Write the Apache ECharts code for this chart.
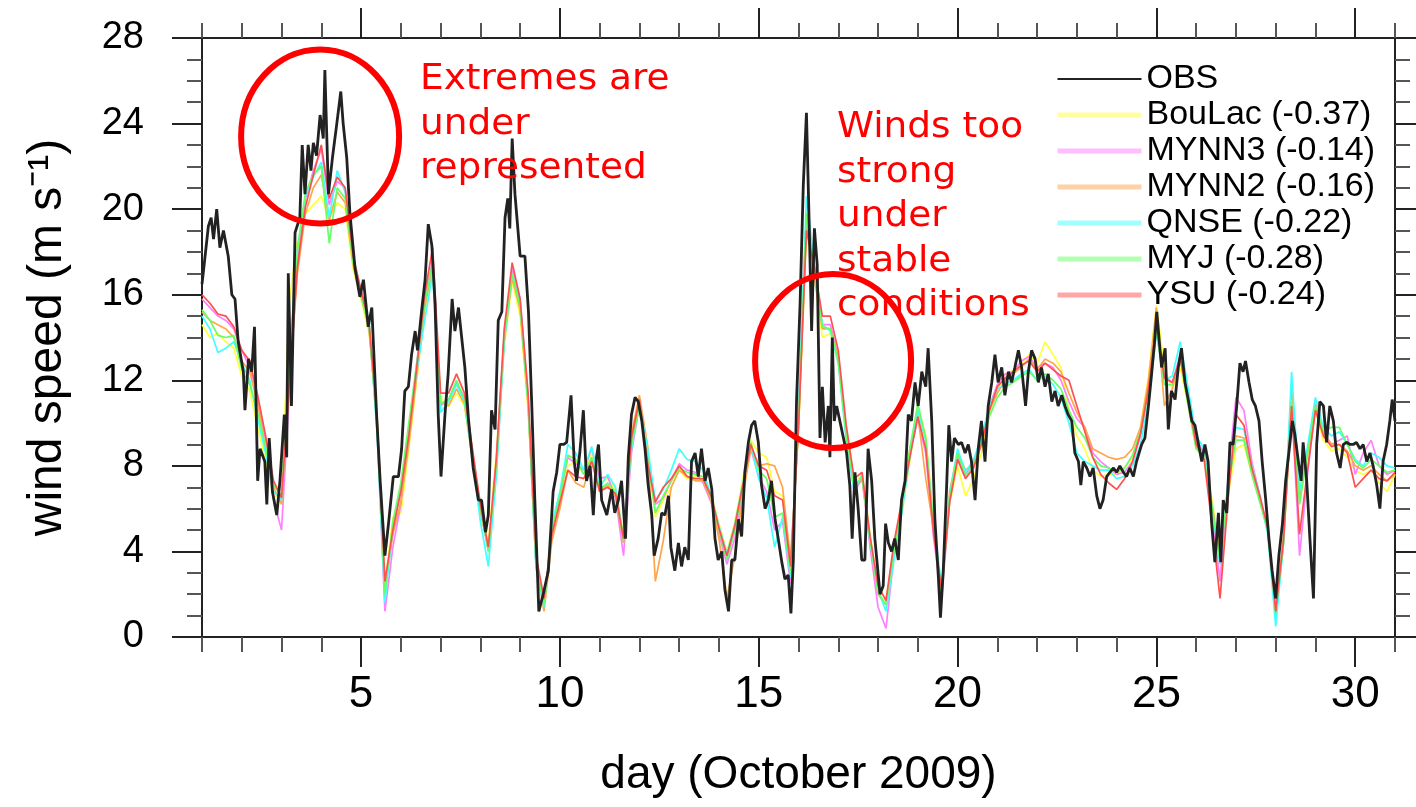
<!DOCTYPE html>
<html>
<head>
<meta charset="utf-8">
<title>Wind speed, October 2009</title>
<script src="https://cdn.jsdelivr.net/npm/echarts@6/dist/echarts.min.js"></script>
<style>
  html, body { margin: 0; padding: 0; background: #fff; }
  #chart { width: 1416px; height: 807px; }
</style>
</head>
<body>
<div id="chart"></div>
<script>
const obsDay = [
  1.00,1.06,1.16,1.23,1.29,1.37,1.45,1.54,1.66,1.75,1.83,1.91,
  2.04,2.08,2.17,2.25,2.32,2.40,2.46,2.58,2.63,2.69,2.77,2.88,2.96,
  3.07,3.13,3.17,3.25,3.34,3.46,3.52,3.59,3.67,3.74,3.80,3.88,3.97,
  4.05,4.09,4.18,4.28,4.39,4.49,4.55,4.64,4.72,4.85,4.97,
  5.06,5.18,5.27,5.39,5.48,5.60,5.69,5.81,5.94,
  6.02,6.10,6.19,6.27,6.36,6.42,6.52,6.61,6.69,6.78,6.86,6.94,
  7.01,7.11,7.19,7.29,7.36,7.45,7.53,7.61,7.70,7.82,7.95,
  8.03,8.13,8.20,8.28,8.37,8.45,8.54,8.62,8.69,8.74,8.80,8.87,
  9.00,9.12,9.21,9.29,9.37,9.47,9.58,9.71,9.83,9.92,
  10.00,10.09,10.17,10.28,10.36,10.42,10.50,10.59,10.67,10.76,10.84,10.92,10.97,
  11.05,11.18,11.30,11.38,11.47,11.55,11.65,11.72,11.80,11.89,11.97,
  12.06,12.14,12.22,12.31,12.37,12.47,12.56,12.64,12.73,12.79,12.89,12.98,
  13.06,13.14,13.23,13.31,13.40,13.48,13.56,13.65,13.73,13.82,13.90,13.98,
  14.07,14.15,14.24,14.32,14.40,14.49,14.57,14.65,14.74,14.82,14.90,14.99,
  15.07,15.16,15.24,15.32,15.41,15.49,15.58,15.66,15.74,15.81,15.87,15.95,
  16.04,16.12,16.20,16.27,16.33,16.40,16.47,16.54,16.60,16.67,16.75,16.79,16.85,16.90,16.96,
  17.04,17.13,17.21,17.29,17.35,17.42,17.50,17.59,17.67,17.75,17.84,17.92,
  18.05,18.13,18.19,18.26,18.34,18.42,18.51,18.59,18.68,18.76,18.84,18.93,
  19.01,19.10,19.20,19.26,19.35,19.43,19.52,19.57,19.64,19.73,19.78,19.85,19.92,
  20.02,20.10,20.19,20.27,20.35,20.44,20.52,20.60,20.69,20.77,20.86,20.94,
  21.02,21.11,21.19,21.28,21.36,21.44,21.53,21.61,21.71,21.78,21.86,21.95,
  22.03,22.11,22.20,22.28,22.37,22.45,22.53,22.62,22.70,22.78,22.87,22.95,
  23.04,23.10,23.16,23.25,23.33,23.41,23.50,23.58,23.66,23.75,23.83,23.92,
  24.00,24.08,24.17,24.25,24.33,24.42,24.50,24.63,24.71,24.80,24.88,24.95,
  25.01,25.06,25.13,25.22,25.30,25.38,25.47,25.55,25.63,25.72,25.80,25.89,25.97,
  26.05,26.14,26.22,26.30,26.39,26.47,26.56,26.62,26.68,26.77,26.85,26.93,
  27.02,27.10,27.18,27.24,27.33,27.41,27.49,27.58,27.66,27.75,27.83,27.91,
  28.00,28.08,28.17,28.25,28.33,28.42,28.48,28.57,28.64,28.69,28.78,28.86,28.95,
  29.03,29.11,29.20,29.28,29.36,29.45,29.53,29.62,29.70,29.78,29.87,29.95,
  30.03,30.12,30.20,30.29,30.37,30.45,30.54,30.62,30.70,30.79,30.87,30.93,31.00
]
const obsSpeed = [
  16.5,17.5,19.2,19.6,18.6,20.0,18.2,19.0,17.8,16.0,15.8,13.8,
  12.4,10.6,13.0,12.4,14.5,7.3,8.8,8.2,6.2,9.3,6.8,5.7,7.3,
  10.4,8.4,17.0,10.8,18.9,19.6,23.0,20.7,23.0,21.8,23.1,22.5,24.4,
  23.3,26.5,20.7,22.4,24.0,25.5,24.0,22.4,19.8,17.2,15.9,
  16.7,14.5,15.4,10.4,7.3,3.8,5.3,7.5,7.5,
  8.8,11.5,11.7,13.2,14.3,13.4,15.2,16.7,19.3,18.3,15.6,10.4,
  7.5,10.4,12.3,15.8,14.3,15.4,14.0,12.6,10.2,7.9,6.4,
  6.4,4.9,5.7,10.6,9.7,14.8,15.2,19.6,20.5,19.1,23.3,20.7,
  17.8,17.8,15.2,11.0,6.4,1.2,2.0,3.1,6.8,7.7,
  9.0,9.0,9.1,11.3,8.2,7.3,8.6,10.6,7.3,8.0,5.7,8.4,9.0,
  6.4,5.7,6.9,5.8,6.4,7.3,4.6,8.4,10.4,11.2,11.0,
  10.1,8.8,7.1,5.7,3.8,4.6,5.8,5.7,6.6,4.2,3.1,4.4,
  3.3,4.2,3.6,8.2,8.6,7.5,8.8,7.3,7.9,6.9,4.6,3.6,
  4.0,2.2,1.2,3.6,3.6,5.5,4.7,7.7,9.1,9.9,10.1,9.1,
  7.1,6.0,6.4,7.3,5.5,4.6,3.5,2.7,2.9,1.1,3.6,11.0,
  15.6,21.1,24.5,19.2,14.3,19.1,17.4,9.3,11.7,9.1,10.8,8.4,14.0,10.1,10.8,
  10.1,9.3,8.6,7.1,4.6,7.7,6.0,3.6,3.6,8.8,7.3,4.6,
  2.0,2.4,5.3,4.4,4.0,4.6,3.6,6.4,7.3,10.4,10.1,11.9,
  10.8,12.4,11.7,13.5,10.1,5.5,2.7,0.9,3.1,7.3,9.9,8.2,9.3,
  9.0,9.1,8.6,9.0,8.2,6.4,8.8,10.1,8.2,10.8,11.9,13.2,
  11.9,12.6,11.3,12.4,11.9,12.6,13.4,12.6,10.8,12.4,13.4,13.0,
  11.9,12.6,11.7,12.3,11.0,11.5,10.8,11.3,10.8,10.4,10.1,8.6,
  8.2,7.1,8.2,7.9,7.5,7.9,6.6,6.0,6.4,7.5,7.7,7.9,
  7.7,8.0,7.7,7.5,7.9,7.5,8.2,9.0,9.3,10.8,12.3,13.7,
  15.2,14.1,12.6,13.5,9.7,11.5,11.1,12.6,13.5,11.9,11.1,10.1,9.9,
  9.1,8.2,9.0,8.2,5.3,3.5,5.8,3.5,6.4,5.8,9.1,9.0,
  10.8,12.8,12.4,12.9,11.9,11.1,10.8,10.1,8.2,6.4,4.6,3.1,
  1.8,3.8,5.3,7.3,8.6,10.1,9.5,8.2,7.3,9.1,7.3,4.6,1.8,
  9.0,11.0,10.8,9.1,10.8,10.1,8.6,7.9,9.0,9.1,9.0,9.0,
  9.1,8.8,9.0,8.2,8.6,8.0,7.1,6.0,8.2,9.0,10.1,11.1,10.1
]

// model output, one value every 0.2 day
const modelDay = [
  1.0,1.2,1.4,1.6,1.8, 2.0,2.2,2.4,2.6,2.8, 3.0,3.2,3.4,3.6,3.8, 4.0,4.2,4.4,4.6,4.8,
  5.0,5.2,5.4,5.6,5.8, 6.0,6.2,6.4,6.6,6.8, 7.0,7.2,7.4,7.6,7.8, 8.0,8.2,8.4,8.6,8.8,
  9.0,9.2,9.4,9.6,9.8, 10.0,10.2,10.4,10.6,10.8, 11.0,11.2,11.4,11.6,11.8, 12.0,12.2,12.4,12.6,12.8,
  13.0,13.2,13.4,13.6,13.8, 14.0,14.2,14.4,14.6,14.8, 15.0,15.2,15.4,15.6,15.8, 16.0,16.2,16.4,16.6,16.8,
  17.0,17.2,17.4,17.6,17.8, 18.0,18.2,18.4,18.6,18.8, 19.0,19.2,19.4,19.6,19.8, 20.0,20.2,20.4,20.6,20.8,
  21.0,21.2,21.4,21.6,21.8, 22.0,22.2,22.4,22.6,22.8, 23.0,23.2,23.4,23.6,23.8, 24.0,24.2,24.4,24.6,24.8,
  25.0,25.2,25.4,25.6,25.8, 26.0,26.2,26.4,26.6,26.8, 27.0,27.2,27.4,27.6,27.8, 28.0,28.2,28.4,28.6,28.8,
  29.0,29.2,29.4,29.6,29.8, 30.0,30.2,30.4,30.6,30.8, 31.0
]
const boulac = [
  14.6,14.0,14.2,13.8,13.5, 12.2,11.5,9.8,8.2,6.6, 6.5,15.8,18.5,19.8,20.2, 20.6,19.5,20.3,20.0,17.2,
  15.8,14.2,10.4,2.4,5.6, 5.8,8.8,12.0,15.2,17.2, 11.2,10.8,11.4,10.8,8.4, 6.2,4.4,8.6,13.6,16.6,
  15.0,10.6,3.8,1.3,5.2, 6.4,8.0,8.2,7.6,8.6, 7.2,7.4,6.9,4.8,8.8, 10.8,9.0,5.6,6.4,7.0,
  7.8,7.4,7.5,7.3,6.7, 5.3,4.0,5.4,7.4,9.2, 8.6,8.4,6.8,6.6,3.5, 9.6,19.0,16.8,14.0,14.2,
  12.8,9.6,7.2,7.6,4.8, 2.2,1.8,3.8,5.8,8.2, 10.8,9.4,5.4,2.2,6.2, 8.0,6.6,7.4,8.6,10.4,
  11.6,12.2,12.5,12.8,13.2, 12.8,13.8,13.2,12.6,10.6, 9.4,8.8,7.8,7.5,7.6, 7.6,7.9,8.4,9.8,12.2,
  15.5,12.6,11.6,12.6,10.8, 8.8,8.4,6.4,4.0,6.6, 8.8,9.0,7.6,6.4,5.1, 1.3,4.4,10.6,6.4,8.4,
  10.6,9.2,8.7,8.8,8.4, 7.8,7.6,7.8,7.2,6.8, 7.6
]
const mynn3 = [
  15.8,15.4,15.0,14.8,14.4, 13.4,12.6,11.0,9.2,6.4, 5.0,11.5,17.5,20.5,21.8, 22.8,20.2,21.3,21.0,17.6,
  16.1,14.6,9.8,1.2,4.2, 6.2,9.6,12.8,15.8,17.6, 10.8,11.1,11.9,11.2,8.6, 6.0,4.0,8.2,14.2,17.2,
  15.8,11.2,3.3,1.6,4.8, 6.6,8.4,8.1,7.8,8.8, 7.4,7.5,6.5,3.8,8.6, 10.9,8.6,6.2,6.5,7.3,
  8.1,7.8,7.7,7.2,6.3, 4.8,3.4,4.6,6.8,8.8, 7.5,6.8,5.0,5.4,2.5, 10.2,19.8,17.2,14.6,14.6,
  13.1,9.4,6.8,7.4,4.2, 1.4,0.4,3.8,6.0,8.6, 10.2,8.6,4.6,1.8,6.3, 8.4,7.6,8.2,9.2,10.8,
  11.8,12.3,12.4,12.9,13.1, 12.6,12.8,12.6,12.0,11.0, 10.2,9.8,8.6,8.2,7.9, 7.6,7.7,8.2,9.4,11.6,
  14.6,12.2,11.9,13.2,11.2, 9.2,8.6,5.8,2.6,7.4, 11.2,10.6,8.2,6.6,5.0, 1.0,4.6,11.0,3.8,7.6,
  10.9,9.6,9.0,9.2,9.4, 7.6,8.6,9.2,8.0,7.6, 7.8
]
const mynn2 = [
  15.2,14.8,14.6,14.4,14.0, 12.9,12.4,10.9,8.8,7.0, 6.2,12.0,17.0,19.8,21.0, 21.6,19.5,20.8,20.3,17.4,
  16.0,14.4,10.2,2.2,4.8, 6.3,9.0,12.2,15.4,17.3, 11.0,10.8,11.6,10.9,8.3, 5.8,4.2,7.6,13.8,16.8,
  15.3,10.8,3.4,1.2,4.5, 6.0,7.8,7.2,7.0,8.3, 6.8,7.1,6.6,4.4,9.5, 11.3,9.0,2.6,4.5,7.0,
  7.8,7.5,7.3,7.3,6.4, 4.6,1.8,3.8,6.6,8.8, 8.0,8.1,8.0,7.0,3.6, 9.8,19.3,16.8,14.4,14.4,
  13.0,9.5,7.1,7.4,4.5, 2.0,1.5,4.2,6.2,8.8, 10.4,7.4,5.0,2.0,6.8, 8.6,7.8,8.1,9.0,10.6,
  11.4,12.0,12.3,12.6,13.0, 12.5,13.0,12.8,12.4,11.4, 10.5,9.8,8.8,8.6,8.4, 8.3,8.4,8.8,9.8,12.0,
  15.4,10.8,11.6,13.0,11.0, 9.0,8.4,6.2,3.6,7.0, 9.4,9.3,7.7,6.5,4.9, 1.2,4.8,11.8,6.5,8.6,
  10.8,9.5,9.0,9.0,8.7, 8.0,7.8,8.0,7.6,7.3, 7.6
]
const qnse = [
  15.0,14.4,13.3,13.5,13.8, 12.8,12.0,10.2,8.6,6.8, 6.4,12.8,18.2,20.6,21.5, 22.2,19.6,21.8,20.8,17.8,
  16.2,14.8,9.6,1.6,5.2, 6.9,9.8,12.4,14.8,17.0, 10.5,11.0,11.8,11.0,8.4, 5.4,3.3,7.5,13.8,17.0,
  15.6,11.0,3.2,1.4,5.3, 6.8,9.0,8.6,7.8,8.9, 7.0,7.6,7.0,4.6,8.8, 10.9,8.9,6.4,6.9,7.8,
  8.8,8.3,8.2,7.8,6.6, 5.2,3.9,5.3,7.2,9.0, 7.4,6.5,4.2,5.6,2.8, 10.5,20.6,17.4,14.6,14.3,
  12.8,9.2,6.8,7.6,4.4, 2.2,1.2,3.6,5.8,8.4, 10.6,9.2,5.2,2.4,6.6, 8.8,7.7,8.3,9.3,10.8,
  11.6,11.8,12.0,12.3,12.5, 12.0,12.2,11.8,11.2,10.0, 8.6,8.2,8.0,7.8,7.8, 7.4,7.5,8.0,9.0,11.0,
  14.2,12.0,12.2,13.8,11.6, 9.4,8.8,6.0,3.4,7.2, 9.8,9.7,8.0,6.6,4.8, 0.5,4.4,12.4,6.8,8.9,
  11.2,9.8,9.4,9.6,9.0, 8.3,8.0,8.6,8.4,8.0, 7.9
]
const myj = [
  15.3,14.8,14.1,14.0,14.1, 12.5,11.8,10.5,8.9,7.1, 6.6,13.2,18.0,20.8,21.6, 22.0,18.4,21.0,20.5,17.5,
  15.9,14.5,10.0,2.0,5.4, 7.2,10.0,12.8,15.6,17.5, 10.9,11.1,12.0,11.1,8.7, 6.1,4.0,8.0,14.0,17.0,
  15.4,11.0,3.5,1.5,5.0, 6.6,8.5,8.3,7.6,8.4, 6.9,7.2,6.8,4.5,9.0, 10.8,8.4,5.8,6.6,7.3,
  7.9,7.7,7.6,7.5,6.5, 5.0,3.6,5.0,7.0,9.1, 7.8,7.4,5.6,5.8,3.0, 10.0,19.8,17.2,14.5,14.4,
  12.9,9.4,7.0,7.5,4.6, 2.1,1.5,4.0,6.0,8.8, 10.9,9.3,5.1,2.0,6.5, 8.6,7.5,8.0,9.1,10.3,
  11.2,11.7,11.9,12.2,12.4, 12.0,12.3,12.0,11.6,10.6, 9.8,9.3,8.4,8.0,7.9, 7.7,7.9,8.5,9.6,11.4,
  14.3,11.8,11.8,13.0,10.8, 8.8,8.4,6.1,3.6,7.0, 9.2,9.2,7.6,6.3,5.0, 1.1,4.5,11.0,6.2,8.6,
  10.8,9.6,9.8,9.8,9.0, 8.2,7.9,8.3,8.0,7.7, 7.8
]
const ysu = [
  16.0,15.6,15.1,15.0,14.5, 13.4,12.9,11.3,9.4,7.3, 6.5,12.0,17.3,20.1,21.6, 23.0,20.5,21.5,21.0,17.8,
  16.2,14.7,10.3,2.6,5.0, 6.8,9.4,12.6,16.0,18.2, 11.4,11.4,12.3,11.4,8.8, 6.2,4.2,8.3,14.4,17.5,
  15.8,11.4,3.8,1.8,4.8, 6.3,7.8,7.5,7.4,8.2, 6.8,7.0,6.7,4.6,9.3, 11.1,8.2,6.3,7.0,7.4,
  8.0,7.5,7.4,7.4,6.6, 5.1,3.8,5.2,7.1,9.0, 8.0,7.8,6.6,6.4,3.3, 9.8,19.0,17.3,15.0,15.0,
  13.4,9.9,7.4,7.7,4.7, 2.4,1.7,4.4,6.4,8.4, 10.3,8.8,4.8,2.2,6.3, 8.3,7.4,7.9,9.0,10.6,
  11.7,12.1,12.4,12.7,12.9, 12.4,12.8,12.5,12.2,12.0, 10.8,9.6,8.4,7.6,7.2, 6.9,7.4,8.2,9.5,11.6,
  14.6,12.1,11.9,13.0,11.1, 9.0,8.3,5.2,1.8,6.4, 10.4,9.9,7.9,6.6,5.1, 1.2,4.6,10.8,4.8,7.8,
  10.6,9.4,8.9,9.0,8.6, 7.0,7.4,7.8,7.4,7.3, 7.7
]

const modelNames = ['BouLac (-0.37)', 'MYNN3 (-0.14)', 'MYNN2 (-0.16)', 'QNSE (-0.22)', 'MYJ (-0.28)', 'YSU (-0.24)']
const modelValues = [boulac, mynn3, mynn2, qnse, myj, ysu]
const majorDays = [5, 10, 15, 20, 25, 30]

const MODEL_COLORS = ['#ffff40', '#ff80ff', '#ffa64d', '#40ffff', '#66ff66', '#ff5050']
const FONT = '"Liberation Sans", Arial, Helvetica, sans-serif'
const AXIS_COLOR = '#222'

const pairs = (xs, ys) => xs.map((x, i) => [x, ys[i]])

window.addEventListener('DOMContentLoaded', () => {
    const chart = echarts.init(document.getElementById('chart'))

    const lineAxis = { show: true, lineStyle: { color: AXIS_COLOR, width: 2 } }
    const xBase = {
        type: 'value', min: 1, max: 31,
        axisLine: lineAxis,
        splitLine: { show: false },
        axisLabel: { show: false }
    }
    const dayTicks = { show: true, length: 15, lineStyle: { color: '#555', width: 2 } }
    const majorTicks = { show: true, customValues: majorDays, length: 30, lineStyle: { color: AXIS_COLOR, width: 2 } }

    const yBase = {
        type: 'value', min: 0, max: 28, interval: 4,
        axisLine: lineAxis,
        axisTick: { show: true, length: 30, lineStyle: { color: AXIS_COLOR, width: 2 } },
        minorTick: { show: true, splitNumber: 4, length: 15, lineStyle: { color: '#555', width: 2 } },
        splitLine: { show: false },
        minorSplitLine: { show: false }
    }

    const series = modelNames.map((name, i) => ({
        name: name,
        type: 'line',
        data: pairs(modelDay, modelValues[i]),
        symbol: 'none',
        color: MODEL_COLORS[i],
        lineStyle: { width: 1.7, color: MODEL_COLORS[i] }
    }))
    series.push({
        name: 'OBS',
        type: 'line',
        data: pairs(obsDay, obsSpeed),
        symbol: 'none',
        color: '#222',
        lineStyle: { width: 2.8, color: '#222' },
        z: 5
    })

    const legendData = [{ name: 'OBS', lineStyle: { width: 2 } }].concat(
        modelNames.map(name => ({ name: name, lineStyle: { width: 5, opacity: 0.5 } }))
    )

    chart.setOption({
        animation: false,
        backgroundColor: '#fff',
        grid: { left: 202, right: 21, top: 38, bottom: 170 },
        legend: {
            data: legendData,
            orient: 'vertical',
            left: 1050,
            top: 56,
            itemWidth: 84,
            itemHeight: 14,
            itemGap: 0,
            itemStyle: { opacity: 0 },
            selectedMode: false,
            textStyle: { fontFamily: FONT, fontSize: 34, color: '#000', lineHeight: 36 }
        },
        xAxis: [
            { ...xBase, position: 'bottom', interval: 1, axisTick: dayTicks },
            {
                ...xBase, position: 'bottom', axisTick: majorTicks,
                axisLabel: { show: true, customValues: majorDays, fontFamily: FONT, fontSize: 44, color: '#000', margin: 36 },
                name: 'day (October 2009)', nameLocation: 'middle', nameGap: 115,
                nameTextStyle: { fontFamily: FONT, fontSize: 46, color: '#000' }
            },
            { ...xBase, position: 'top', interval: 1, axisTick: dayTicks },
            { ...xBase, position: 'top', axisTick: majorTicks }
        ],
        yAxis: [
            {
                ...yBase, position: 'left',
                axisLabel: { fontFamily: FONT, fontSize: 38, color: '#000', margin: 58 },
                name: 'wind speed (m s\u207B\u00B9)', nameLocation: 'middle', nameGap: 130,
                nameTextStyle: { fontFamily: FONT, fontSize: 48, color: '#000' }
            },
            { ...yBase, position: 'right', axisLabel: { show: false } }
        ],
        series: series
    })

    // red annotations, anchored on data coordinates
    const c1 = chart.convertToPixel({ seriesIndex: 0 }, [3.97, 23.4])
    const c2 = chart.convertToPixel({ seriesIndex: 0 }, [16.87, 12.9])
    const ring = (c, rx, ry) => ({
        type: 'ellipse',
        shape: { cx: c[0], cy: c[1], rx: rx, ry: ry },
        style: { fill: null, stroke: '#ff0000', lineWidth: 6 },
        z: 100
    })
    const note = (x, y, text) => ({
        type: 'text',
        x: x, y: y,
        scaleX: 1.07,
        style: { text: text, fill: '#ff0000', font: '35px "DejaVu Sans", Verdana, sans-serif', lineHeight: 44.5 },
        z: 100
    })
    chart.setOption({
        graphic: [
            ring(c1, 79, 87),
            ring(c2, 78, 87),
            note(420, 58, 'Extremes are\nunder\nrepresented'),
            note(837, 106, 'Winds too\nstrong\nunder\nstable\nconditions')
        ]
    })
})
</script>
</body>
</html>
